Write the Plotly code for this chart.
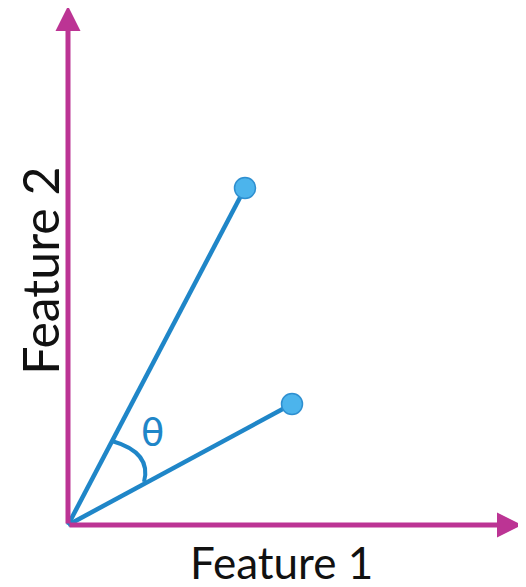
import plotly.graph_objects as go

# Feature-space values (1 unit = 100 px in the reference)
vector_names = ["A", "B"]
feature1 = [1.77, 2.24]
feature2 = [3.37, 1.21]

axis_len_x = 4.54
axis_len_y = 5.19

# angle arc between the two vectors (start, bend, end)
arc_x = [0.44, 0.84, 0.76]
arc_y = [0.84, 0.725, 0.43]
theta_pos = (0.84, 0.93)

axis_color = "#BC3494"
line_color = "#1F86C8"
dot_color = "#4CB4EC"

fig = go.Figure()

# vectors from the origin
for i, name in enumerate(vector_names):
    fig.add_trace(go.Scatter(
        x=[0, feature1[i]],
        y=[0, feature2[i]],
        mode="lines",
        line=dict(color=line_color, width=4.5),
        name=name,
        hoverinfo="skip",
    ))

# end points
fig.add_trace(go.Scatter(
    x=feature1,
    y=feature2,
    mode="markers",
    marker=dict(size=21, color=dot_color, line=dict(color="#2E8FD0", width=1.5)),
    hoverinfo="skip",
))

# angle arc
fig.add_shape(
    type="path",
    path=f"M{arc_x[0]},{arc_y[0]} Q{arc_x[1]},{arc_y[1]} {arc_x[2]},{arc_y[2]}",
    xref="x", yref="y",
    line=dict(color=line_color, width=4),
)

fig.add_annotation(
    x=theta_pos[0], y=theta_pos[1],
    text="θ",
    showarrow=False,
    font=dict(family="DejaVu Sans", size=38, color=line_color),
)

# axes with arrows
for tip in [(axis_len_x, 0), (0, axis_len_y)]:
    fig.add_annotation(
        x=tip[0], y=tip[1],
        ax=0, ay=0,
        xref="x", yref="y", axref="x", ayref="y",
        text="",
        showarrow=True,
        arrowhead=2,
        arrowsize=1.0,
        arrowwidth=5,
        arrowcolor=axis_color,
    )

# axis labels
fig.add_annotation(
    x=axis_len_x * 0.47, y=-0.37,
    text="Feature 1",
    showarrow=False,
    font=dict(family="Lato", size=44, color="#111111"),
)
fig.add_annotation(
    x=-0.28, y=axis_len_y * 0.49,
    text="Feature 2",
    textangle=-90,
    showarrow=False,
    font=dict(family="Lato", size=50, color="#111111"),
)

# the page body adds an 8px margin, so the figure is slightly smaller
fig.update_layout(
    width=518,
    height=579,
    margin=dict(l=0, r=0, t=0, b=0),
    plot_bgcolor="white",
    paper_bgcolor="white",
    showlegend=False,
    xaxis=dict(range=[-0.60, 4.58], visible=False, fixedrange=True),
    yaxis=dict(range=[-0.62, 5.17], visible=False, fixedrange=True),
)

fig.write_html("out.html")
